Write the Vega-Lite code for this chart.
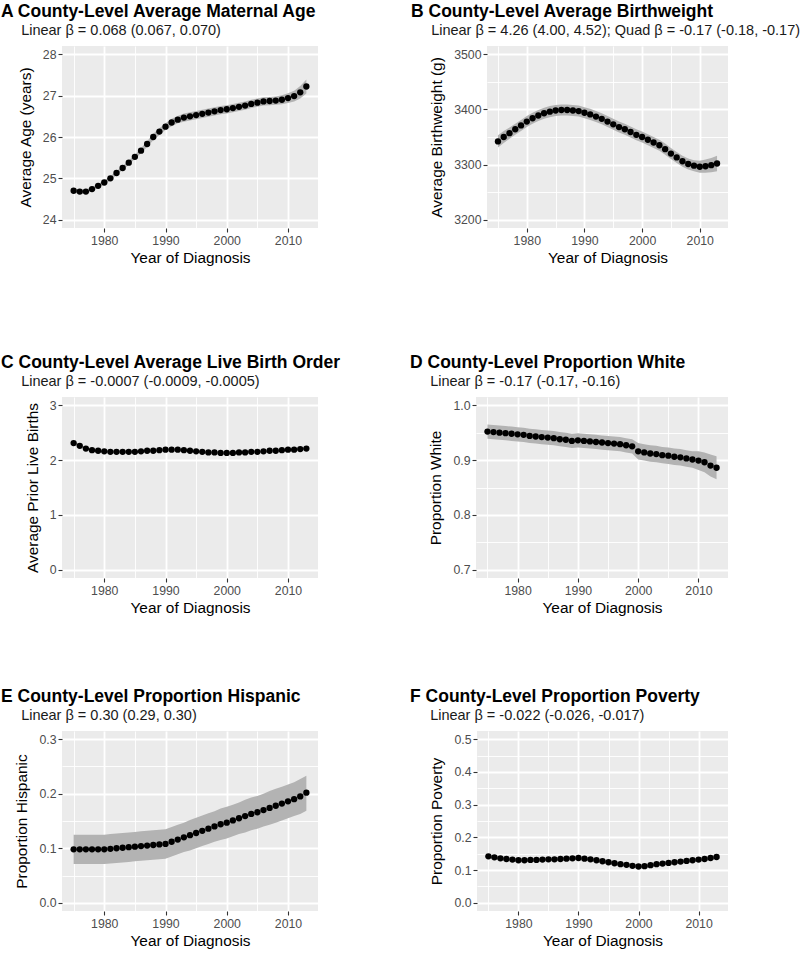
{
"$schema":"https://vega.github.io/schema/vega-lite/v6.json",
"padding":{"left":1,"top":3,"right":0,"bottom":0},
"background":"#FFFFFF",
"config":{
 "font":"Liberation Sans",
 "view":{"fill":"#EBEBEB","stroke":null},
 "axis":{"domain":false,"tickCount":50,"gridColor":"#FFFFFF","labelFontSize":12.3,"labelColor":"#4D4D4D","labelPadding":2,"tickColor":"#333333","tickSize":4,"tickWidth":1.1,"titleFontSize":15.4,"titleFontWeight":"normal","titleColor":"#000000","labelFlush":false,"labelOverlap":false,"labelBound":false},
 "axisX":{"titlePadding":4},
 "axisY":{"titlePadding":9},
 "title":{"anchor":"start","frame":"group","fontSize":17.5,"fontWeight":"bold","color":"#000000","subtitleFontSize":14.5,"subtitleColor":"#1A1A1A","subtitlePadding":3,"offset":9}
},
"datasets":{
"A":[
{"year":1975,"value":24.70,"lo":24.65,"hi":24.75},{"year":1976,"value":24.68,"lo":24.63,"hi":24.73},{"year":1977,"value":24.68,"lo":24.63,"hi":24.73},{"year":1978,"value":24.74,"lo":24.69,"hi":24.79},{"year":1979,"value":24.82,"lo":24.77,"hi":24.87},{"year":1980,"value":24.90,"lo":24.85,"hi":24.95},{"year":1981,"value":25.00,"lo":24.95,"hi":25.05},{"year":1982,"value":25.13,"lo":25.08,"hi":25.18},{"year":1983,"value":25.25,"lo":25.20,"hi":25.30},{"year":1984,"value":25.38,"lo":25.33,"hi":25.43},{"year":1985,"value":25.52,"lo":25.47,"hi":25.57},{"year":1986,"value":25.67,"lo":25.61,"hi":25.73},{"year":1987,"value":25.83,"lo":25.76,"hi":25.90},{"year":1988,"value":26.00,"lo":25.92,"hi":26.08},{"year":1989,"value":26.13,"lo":26.05,"hi":26.21},{"year":1990,"value":26.25,"lo":26.17,"hi":26.33},{"year":1991,"value":26.35,"lo":26.26,"hi":26.44},{"year":1992,"value":26.42,"lo":26.33,"hi":26.51},{"year":1993,"value":26.47,"lo":26.37,"hi":26.57},{"year":1994,"value":26.50,"lo":26.40,"hi":26.60},{"year":1995,"value":26.53,"lo":26.43,"hi":26.63},{"year":1996,"value":26.56,"lo":26.46,"hi":26.66},{"year":1997,"value":26.59,"lo":26.49,"hi":26.69},{"year":1998,"value":26.62,"lo":26.52,"hi":26.72},{"year":1999,"value":26.65,"lo":26.55,"hi":26.75},{"year":2000,"value":26.67,"lo":26.57,"hi":26.77},{"year":2001,"value":26.70,"lo":26.60,"hi":26.80},{"year":2002,"value":26.73,"lo":26.63,"hi":26.83},{"year":2003,"value":26.76,"lo":26.66,"hi":26.86},{"year":2004,"value":26.80,"lo":26.70,"hi":26.90},{"year":2005,"value":26.83,"lo":26.73,"hi":26.93},{"year":2006,"value":26.86,"lo":26.76,"hi":26.96},{"year":2007,"value":26.87,"lo":26.77,"hi":26.97},{"year":2008,"value":26.88,"lo":26.78,"hi":26.98},{"year":2009,"value":26.90,"lo":26.79,"hi":27.01},{"year":2010,"value":26.94,"lo":26.82,"hi":27.06},{"year":2011,"value":26.99,"lo":26.86,"hi":27.12},{"year":2012,"value":27.08,"lo":26.93,"hi":27.23},{"year":2013,"value":27.22,"lo":27.05,"hi":27.39}
],
"B":[
{"year":1975,"value":3342,"lo":3331,"hi":3353},{"year":1976,"value":3350,"lo":3339,"hi":3361},{"year":1977,"value":3357,"lo":3347,"hi":3367},{"year":1978,"value":3364,"lo":3354,"hi":3374},{"year":1979,"value":3371,"lo":3361,"hi":3381},{"year":1980,"value":3378,"lo":3368,"hi":3388},{"year":1981,"value":3384,"lo":3374,"hi":3394},{"year":1982,"value":3389,"lo":3379,"hi":3399},{"year":1983,"value":3393,"lo":3383,"hi":3403},{"year":1984,"value":3396,"lo":3386,"hi":3406},{"year":1985,"value":3398,"lo":3388,"hi":3408},{"year":1986,"value":3399,"lo":3389,"hi":3409},{"year":1987,"value":3399,"lo":3389,"hi":3409},{"year":1988,"value":3398,"lo":3388,"hi":3408},{"year":1989,"value":3397,"lo":3387,"hi":3407},{"year":1990,"value":3394,"lo":3384,"hi":3404},{"year":1991,"value":3391,"lo":3381,"hi":3401},{"year":1992,"value":3387,"lo":3377,"hi":3397},{"year":1993,"value":3383,"lo":3373,"hi":3393},{"year":1994,"value":3378,"lo":3368,"hi":3388},{"year":1995,"value":3373,"lo":3363,"hi":3383},{"year":1996,"value":3368,"lo":3358,"hi":3378},{"year":1997,"value":3364,"lo":3354,"hi":3374},{"year":1998,"value":3359,"lo":3349,"hi":3369},{"year":1999,"value":3354,"lo":3344,"hi":3364},{"year":2000,"value":3350,"lo":3340,"hi":3360},{"year":2001,"value":3345,"lo":3335,"hi":3355},{"year":2002,"value":3340,"lo":3330,"hi":3350},{"year":2003,"value":3335,"lo":3325,"hi":3345},{"year":2004,"value":3328,"lo":3318,"hi":3338},{"year":2005,"value":3320,"lo":3310,"hi":3330},{"year":2006,"value":3313,"lo":3303,"hi":3323},{"year":2007,"value":3306,"lo":3296,"hi":3316},{"year":2008,"value":3301,"lo":3291,"hi":3311},{"year":2009,"value":3298,"lo":3288,"hi":3308},{"year":2010,"value":3296,"lo":3285,"hi":3307},{"year":2011,"value":3297,"lo":3285,"hi":3309},{"year":2012,"value":3299,"lo":3286,"hi":3312},{"year":2013,"value":3302,"lo":3288,"hi":3316}
],
"C":[
{"year":1975,"value":2.31,"lo":2.28,"hi":2.34},{"year":1976,"value":2.26,"lo":2.24,"hi":2.28},{"year":1977,"value":2.21,"lo":2.19,"hi":2.23},{"year":1978,"value":2.18,"lo":2.16,"hi":2.20},{"year":1979,"value":2.17,"lo":2.15,"hi":2.19},{"year":1980,"value":2.16,"lo":2.14,"hi":2.18},{"year":1981,"value":2.15,"lo":2.13,"hi":2.17},{"year":1982,"value":2.15,"lo":2.13,"hi":2.17},{"year":1983,"value":2.15,"lo":2.13,"hi":2.17},{"year":1984,"value":2.15,"lo":2.13,"hi":2.17},{"year":1985,"value":2.15,"lo":2.13,"hi":2.17},{"year":1986,"value":2.16,"lo":2.14,"hi":2.18},{"year":1987,"value":2.17,"lo":2.15,"hi":2.19},{"year":1988,"value":2.17,"lo":2.15,"hi":2.19},{"year":1989,"value":2.18,"lo":2.16,"hi":2.20},{"year":1990,"value":2.19,"lo":2.17,"hi":2.21},{"year":1991,"value":2.19,"lo":2.17,"hi":2.21},{"year":1992,"value":2.19,"lo":2.17,"hi":2.21},{"year":1993,"value":2.18,"lo":2.16,"hi":2.20},{"year":1994,"value":2.17,"lo":2.15,"hi":2.19},{"year":1995,"value":2.16,"lo":2.14,"hi":2.18},{"year":1996,"value":2.15,"lo":2.13,"hi":2.17},{"year":1997,"value":2.14,"lo":2.12,"hi":2.16},{"year":1998,"value":2.14,"lo":2.12,"hi":2.16},{"year":1999,"value":2.13,"lo":2.11,"hi":2.15},{"year":2000,"value":2.13,"lo":2.11,"hi":2.15},{"year":2001,"value":2.13,"lo":2.11,"hi":2.15},{"year":2002,"value":2.14,"lo":2.12,"hi":2.16},{"year":2003,"value":2.14,"lo":2.12,"hi":2.16},{"year":2004,"value":2.15,"lo":2.13,"hi":2.17},{"year":2005,"value":2.15,"lo":2.13,"hi":2.17},{"year":2006,"value":2.16,"lo":2.14,"hi":2.18},{"year":2007,"value":2.17,"lo":2.15,"hi":2.19},{"year":2008,"value":2.17,"lo":2.15,"hi":2.19},{"year":2009,"value":2.18,"lo":2.16,"hi":2.20},{"year":2010,"value":2.19,"lo":2.17,"hi":2.21},{"year":2011,"value":2.19,"lo":2.17,"hi":2.21},{"year":2012,"value":2.20,"lo":2.18,"hi":2.22},{"year":2013,"value":2.21,"lo":2.19,"hi":2.23}
],
"D":[
{"year":1975,"value":0.952,"lo":0.939,"hi":0.965},{"year":1976,"value":0.951,"lo":0.938,"hi":0.964},{"year":1977,"value":0.950,"lo":0.937,"hi":0.963},{"year":1978,"value":0.949,"lo":0.936,"hi":0.962},{"year":1979,"value":0.948,"lo":0.935,"hi":0.961},{"year":1980,"value":0.947,"lo":0.934,"hi":0.960},{"year":1981,"value":0.946,"lo":0.933,"hi":0.959},{"year":1982,"value":0.944,"lo":0.931,"hi":0.957},{"year":1983,"value":0.943,"lo":0.930,"hi":0.956},{"year":1984,"value":0.942,"lo":0.929,"hi":0.955},{"year":1985,"value":0.941,"lo":0.928,"hi":0.954},{"year":1986,"value":0.940,"lo":0.927,"hi":0.953},{"year":1987,"value":0.938,"lo":0.925,"hi":0.951},{"year":1988,"value":0.937,"lo":0.924,"hi":0.950},{"year":1989,"value":0.935,"lo":0.922,"hi":0.948},{"year":1990,"value":0.936,"lo":0.923,"hi":0.949},{"year":1991,"value":0.935,"lo":0.922,"hi":0.948},{"year":1992,"value":0.934,"lo":0.921,"hi":0.947},{"year":1993,"value":0.933,"lo":0.920,"hi":0.946},{"year":1994,"value":0.932,"lo":0.919,"hi":0.945},{"year":1995,"value":0.931,"lo":0.918,"hi":0.944},{"year":1996,"value":0.930,"lo":0.917,"hi":0.943},{"year":1997,"value":0.929,"lo":0.916,"hi":0.942},{"year":1998,"value":0.927,"lo":0.914,"hi":0.940},{"year":1999,"value":0.925,"lo":0.912,"hi":0.938},{"year":2000,"value":0.916,"lo":0.901,"hi":0.931},{"year":2001,"value":0.914,"lo":0.899,"hi":0.929},{"year":2002,"value":0.912,"lo":0.897,"hi":0.927},{"year":2003,"value":0.911,"lo":0.896,"hi":0.926},{"year":2004,"value":0.909,"lo":0.894,"hi":0.924},{"year":2005,"value":0.908,"lo":0.893,"hi":0.923},{"year":2006,"value":0.906,"lo":0.891,"hi":0.921},{"year":2007,"value":0.905,"lo":0.890,"hi":0.920},{"year":2008,"value":0.903,"lo":0.888,"hi":0.918},{"year":2009,"value":0.901,"lo":0.886,"hi":0.916},{"year":2010,"value":0.899,"lo":0.882,"hi":0.916},{"year":2011,"value":0.896,"lo":0.878,"hi":0.914},{"year":2012,"value":0.890,"lo":0.870,"hi":0.910},{"year":2013,"value":0.886,"lo":0.865,"hi":0.907}
],
"E":[
{"year":1975,"value":0.098,"lo":0.071,"hi":0.125},{"year":1976,"value":0.098,"lo":0.071,"hi":0.125},{"year":1977,"value":0.098,"lo":0.071,"hi":0.125},{"year":1978,"value":0.098,"lo":0.071,"hi":0.125},{"year":1979,"value":0.098,"lo":0.071,"hi":0.125},{"year":1980,"value":0.098,"lo":0.071,"hi":0.125},{"year":1981,"value":0.099,"lo":0.072,"hi":0.126},{"year":1982,"value":0.100,"lo":0.073,"hi":0.127},{"year":1983,"value":0.101,"lo":0.074,"hi":0.128},{"year":1984,"value":0.102,"lo":0.075,"hi":0.129},{"year":1985,"value":0.103,"lo":0.076,"hi":0.130},{"year":1986,"value":0.104,"lo":0.077,"hi":0.131},{"year":1987,"value":0.105,"lo":0.078,"hi":0.132},{"year":1988,"value":0.106,"lo":0.079,"hi":0.133},{"year":1989,"value":0.107,"lo":0.080,"hi":0.134},{"year":1990,"value":0.108,"lo":0.081,"hi":0.135},{"year":1991,"value":0.112,"lo":0.085,"hi":0.139},{"year":1992,"value":0.116,"lo":0.089,"hi":0.143},{"year":1993,"value":0.120,"lo":0.093,"hi":0.147},{"year":1994,"value":0.124,"lo":0.096,"hi":0.152},{"year":1995,"value":0.128,"lo":0.100,"hi":0.156},{"year":1996,"value":0.132,"lo":0.104,"hi":0.160},{"year":1997,"value":0.136,"lo":0.108,"hi":0.164},{"year":1998,"value":0.140,"lo":0.112,"hi":0.168},{"year":1999,"value":0.144,"lo":0.115,"hi":0.173},{"year":2000,"value":0.147,"lo":0.118,"hi":0.176},{"year":2001,"value":0.151,"lo":0.122,"hi":0.180},{"year":2002,"value":0.155,"lo":0.126,"hi":0.184},{"year":2003,"value":0.159,"lo":0.129,"hi":0.189},{"year":2004,"value":0.163,"lo":0.133,"hi":0.193},{"year":2005,"value":0.166,"lo":0.136,"hi":0.196},{"year":2006,"value":0.170,"lo":0.140,"hi":0.200},{"year":2007,"value":0.174,"lo":0.143,"hi":0.205},{"year":2008,"value":0.178,"lo":0.147,"hi":0.209},{"year":2009,"value":0.182,"lo":0.151,"hi":0.213},{"year":2010,"value":0.186,"lo":0.155,"hi":0.217},{"year":2011,"value":0.190,"lo":0.159,"hi":0.221},{"year":2012,"value":0.195,"lo":0.163,"hi":0.227},{"year":2013,"value":0.202,"lo":0.169,"hi":0.233}
],
"F":[
{"year":1975,"value":0.142,"lo":0.136,"hi":0.148},{"year":1976,"value":0.139,"lo":0.133,"hi":0.145},{"year":1977,"value":0.136,"lo":0.130,"hi":0.142},{"year":1978,"value":0.134,"lo":0.128,"hi":0.140},{"year":1979,"value":0.132,"lo":0.126,"hi":0.138},{"year":1980,"value":0.130,"lo":0.124,"hi":0.136},{"year":1981,"value":0.130,"lo":0.124,"hi":0.136},{"year":1982,"value":0.131,"lo":0.125,"hi":0.137},{"year":1983,"value":0.131,"lo":0.125,"hi":0.137},{"year":1984,"value":0.132,"lo":0.126,"hi":0.138},{"year":1985,"value":0.133,"lo":0.127,"hi":0.139},{"year":1986,"value":0.133,"lo":0.127,"hi":0.139},{"year":1987,"value":0.134,"lo":0.128,"hi":0.140},{"year":1988,"value":0.135,"lo":0.129,"hi":0.141},{"year":1989,"value":0.136,"lo":0.130,"hi":0.142},{"year":1990,"value":0.137,"lo":0.131,"hi":0.143},{"year":1991,"value":0.135,"lo":0.129,"hi":0.141},{"year":1992,"value":0.133,"lo":0.127,"hi":0.139},{"year":1993,"value":0.130,"lo":0.124,"hi":0.136},{"year":1994,"value":0.127,"lo":0.121,"hi":0.133},{"year":1995,"value":0.124,"lo":0.118,"hi":0.130},{"year":1996,"value":0.121,"lo":0.115,"hi":0.127},{"year":1997,"value":0.118,"lo":0.112,"hi":0.124},{"year":1998,"value":0.116,"lo":0.110,"hi":0.122},{"year":1999,"value":0.113,"lo":0.107,"hi":0.119},{"year":2000,"value":0.111,"lo":0.105,"hi":0.117},{"year":2001,"value":0.112,"lo":0.106,"hi":0.118},{"year":2002,"value":0.115,"lo":0.109,"hi":0.121},{"year":2003,"value":0.118,"lo":0.112,"hi":0.124},{"year":2004,"value":0.120,"lo":0.114,"hi":0.126},{"year":2005,"value":0.122,"lo":0.116,"hi":0.128},{"year":2006,"value":0.124,"lo":0.118,"hi":0.130},{"year":2007,"value":0.126,"lo":0.120,"hi":0.132},{"year":2008,"value":0.128,"lo":0.122,"hi":0.134},{"year":2009,"value":0.130,"lo":0.124,"hi":0.136},{"year":2010,"value":0.132,"lo":0.126,"hi":0.138},{"year":2011,"value":0.134,"lo":0.128,"hi":0.140},{"year":2012,"value":0.137,"lo":0.131,"hi":0.143},{"year":2013,"value":0.140,"lo":0.134,"hi":0.146}
]
},
"vconcat":[
{"vconcat":[
 {"hconcat":[
  {"width":256,"height":182,"data":{"name":"A"},
   "title":{"text":"A County-Level Average Maternal Age","subtitle":"\u200b\u00a0\u00a0\u00a0\u00a0\u00a0Linear β = 0.068 (0.067, 0.070)","dx":-61},
   "encoding":{"x":{"field":"year","type":"quantitative","title":"Year of Diagnosis","scale":{"domain":[1973.1,2014.9],"nice":false,"zero":false},"axis":{"values":[1975,1980,1985,1990,1995,2000,2005,2010],"format":"d","labelExpr":"datum.value % 10 === 0 ? datum.label : ''","gridWidth":{"condition":{"test":"datum.value % 10 === 0","value":1.8},"value":0.9},"tickOpacity":{"condition":{"test":"datum.value % 10 === 0","value":1},"value":0}}}},
   "layer":[
    {"mark":{"type":"area","color":"#B3B3B3"},
     "encoding":{
      "y":{"field":"lo","type":"quantitative","title":"Average Age (years)","scale":{"domain":[23.8,28.2],"nice":false,"zero":false},"axis":{"values":[24,24.5,25,25.5,26,26.5,27,27.5,28],"format":"d","labelExpr":"datum.value % 1 === 0 ? datum.label : ''","gridWidth":{"condition":{"test":"datum.value % 1 === 0","value":1.8},"value":0.9},"tickOpacity":{"condition":{"test":"datum.value % 1 === 0","value":1},"value":0}}},
      "y2":{"field":"hi"}}},
    {"mark":{"type":"circle","color":"#000000","size":40,"opacity":1},
     "encoding":{"y":{"field":"value","type":"quantitative"}}}
   ]},
  {"width":241,"height":182,"data":{"name":"B"},
   "title":{"text":"B County-Level Average Birthweight","subtitle":"\u200b\u00a0\u00a0\u00a0\u00a0\u00a0Linear β = 4.26 (4.00, 4.52); Quad β = -0.17 (-0.18, -0.17)","dx":-76},
   "encoding":{"x":{"field":"year","type":"quantitative","title":"Year of Diagnosis","scale":{"domain":[1973.1,2014.9],"nice":false,"zero":false},"axis":{"values":[1975,1980,1985,1990,1995,2000,2005,2010],"format":"d","labelExpr":"datum.value % 10 === 0 ? datum.label : ''","gridWidth":{"condition":{"test":"datum.value % 10 === 0","value":1.8},"value":0.9},"tickOpacity":{"condition":{"test":"datum.value % 10 === 0","value":1},"value":0}}}},
   "layer":[
    {"mark":{"type":"area","color":"#B3B3B3"},
     "encoding":{
      "y":{"field":"lo","type":"quantitative","title":"Average Birthweight (g)","scale":{"domain":[3185,3515],"nice":false,"zero":false},"axis":{"values":[3200,3250,3300,3350,3400,3450,3500],"format":"d","labelExpr":"datum.value % 100 === 0 ? datum.label : ''","gridWidth":{"condition":{"test":"datum.value % 100 === 0","value":1.8},"value":0.9},"tickOpacity":{"condition":{"test":"datum.value % 100 === 0","value":1},"value":0}}},
      "y2":{"field":"hi"}}},
    {"mark":{"type":"circle","color":"#000000","size":40,"opacity":1},
     "encoding":{"y":{"field":"value","type":"quantitative"}}}
   ]}
 ],"spacing":169,"bounds":"flush"},
 {"hconcat":[
  {"width":256,"height":181,"data":{"name":"C"},
   "title":{"text":"C County-Level Average Live Birth Order","subtitle":"\u200b\u00a0\u00a0\u00a0\u00a0\u00a0Linear β = -0.0007 (-0.0009, -0.0005)","dx":-61},
   "encoding":{"x":{"field":"year","type":"quantitative","title":"Year of Diagnosis","scale":{"domain":[1973.1,2014.9],"nice":false,"zero":false},"axis":{"values":[1975,1980,1985,1990,1995,2000,2005,2010],"format":"d","labelExpr":"datum.value % 10 === 0 ? datum.label : ''","gridWidth":{"condition":{"test":"datum.value % 10 === 0","value":1.8},"value":0.9},"tickOpacity":{"condition":{"test":"datum.value % 10 === 0","value":1},"value":0}}}},
   "layer":[
    {"mark":{"type":"area","color":"#B3B3B3"},
     "encoding":{
      "y":{"field":"lo","type":"quantitative","title":"Average Prior Live Births","scale":{"domain":[-0.15,3.15],"nice":false,"zero":false},"axis":{"values":[0,0.5,1,1.5,2,2.5,3],"format":"d","labelExpr":"datum.value % 1 === 0 ? datum.label : ''","gridWidth":{"condition":{"test":"datum.value % 1 === 0","value":1.8},"value":0.9},"tickOpacity":{"condition":{"test":"datum.value % 1 === 0","value":1},"value":0}}},
      "y2":{"field":"hi"}}},
    {"mark":{"type":"circle","color":"#000000","size":40,"opacity":1},
     "encoding":{"y":{"field":"value","type":"quantitative"}}}
   ]},
  {"width":252,"height":181,"data":{"name":"D"},
   "title":{"text":"D County-Level Proportion White","subtitle":"\u200b\u00a0\u00a0\u00a0\u00a0\u00a0Linear β = -0.17 (-0.17, -0.16)","dx":-66},
   "encoding":{"x":{"field":"year","type":"quantitative","title":"Year of Diagnosis","scale":{"domain":[1973.1,2014.9],"nice":false,"zero":false},"axis":{"values":[1975,1980,1985,1990,1995,2000,2005,2010],"format":"d","labelExpr":"datum.value % 10 === 0 ? datum.label : ''","gridWidth":{"condition":{"test":"datum.value % 10 === 0","value":1.8},"value":0.9},"tickOpacity":{"condition":{"test":"datum.value % 10 === 0","value":1},"value":0}}}},
   "layer":[
    {"mark":{"type":"area","color":"#B3B3B3"},
     "encoding":{
      "y":{"field":"lo","type":"quantitative","title":"Proportion White","scale":{"domain":[0.685,1.015],"nice":false,"zero":false},"axis":{"values":[0.7,0.75,0.8,0.85,0.9,0.95,1.0],"format":".1f","labelExpr":"abs(datum.value*10 - round(datum.value*10)) < 0.001 ? datum.label : ''","gridWidth":{"condition":{"test":"abs(datum.value*10 - round(datum.value*10)) < 0.001","value":1.8},"value":0.9},"tickOpacity":{"condition":{"test":"abs(datum.value*10 - round(datum.value*10)) < 0.001","value":1},"value":0}}},
      "y2":{"field":"hi"}}},
    {"mark":{"type":"circle","color":"#000000","size":40,"opacity":1},
     "encoding":{"y":{"field":"value","type":"quantitative"}}}
   ]}
 ],"spacing":158,"bounds":"flush"}
],"spacing":88,"bounds":"full"},
{"hconcat":[
  {"width":256,"height":180,"data":{"name":"E"},
   "title":{"text":"E County-Level Proportion Hispanic","subtitle":"\u200b\u00a0\u00a0\u00a0\u00a0\u00a0Linear β = 0.30 (0.29, 0.30)","dx":-61},
   "encoding":{"x":{"field":"year","type":"quantitative","title":"Year of Diagnosis","scale":{"domain":[1973.1,2014.9],"nice":false,"zero":false},"axis":{"values":[1975,1980,1985,1990,1995,2000,2005,2010],"format":"d","labelExpr":"datum.value % 10 === 0 ? datum.label : ''","gridWidth":{"condition":{"test":"datum.value % 10 === 0","value":1.8},"value":0.9},"tickOpacity":{"condition":{"test":"datum.value % 10 === 0","value":1},"value":0}}}},
   "layer":[
    {"mark":{"type":"area","color":"#B3B3B3"},
     "encoding":{
      "y":{"field":"lo","type":"quantitative","title":"Proportion Hispanic","scale":{"domain":[-0.015,0.315],"nice":false,"zero":false},"axis":{"values":[0,0.05,0.1,0.15,0.2,0.25,0.3],"format":".1f","labelExpr":"abs(datum.value*10 - round(datum.value*10)) < 0.001 ? datum.label : ''","gridWidth":{"condition":{"test":"abs(datum.value*10 - round(datum.value*10)) < 0.001","value":1.8},"value":0.9},"tickOpacity":{"condition":{"test":"abs(datum.value*10 - round(datum.value*10)) < 0.001","value":1},"value":0}}},
      "y2":{"field":"hi"}}},
    {"mark":{"type":"circle","color":"#000000","size":40,"opacity":1},
     "encoding":{"y":{"field":"value","type":"quantitative"}}}
   ]},
  {"width":251,"height":180,"data":{"name":"F"},
   "title":{"text":"F County-Level Proportion Poverty","subtitle":"\u200b\u00a0\u00a0\u00a0\u00a0\u00a0Linear β = -0.022 (-0.026, -0.017)","dx":-67},
   "encoding":{"x":{"field":"year","type":"quantitative","title":"Year of Diagnosis","scale":{"domain":[1973.1,2014.9],"nice":false,"zero":false},"axis":{"values":[1975,1980,1985,1990,1995,2000,2005,2010],"format":"d","labelExpr":"datum.value % 10 === 0 ? datum.label : ''","gridWidth":{"condition":{"test":"datum.value % 10 === 0","value":1.8},"value":0.9},"tickOpacity":{"condition":{"test":"datum.value % 10 === 0","value":1},"value":0}}}},
   "layer":[
    {"mark":{"type":"area","color":"#B3B3B3"},
     "encoding":{
      "y":{"field":"lo","type":"quantitative","title":"Proportion Poverty","scale":{"domain":[-0.025,0.525],"nice":false,"zero":false},"axis":{"values":[0,0.05,0.1,0.15,0.2,0.25,0.3,0.35,0.4,0.45,0.5],"format":".1f","labelExpr":"abs(datum.value*10 - round(datum.value*10)) < 0.001 ? datum.label : ''","gridWidth":{"condition":{"test":"abs(datum.value*10 - round(datum.value*10)) < 0.001","value":1.8},"value":0.9},"tickOpacity":{"condition":{"test":"abs(datum.value*10 - round(datum.value*10)) < 0.001","value":1},"value":0}}},
      "y2":{"field":"hi"}}},
    {"mark":{"type":"circle","color":"#000000","size":40,"opacity":1},
     "encoding":{"y":{"field":"value","type":"quantitative"}}}
   ]}
 ],"spacing":159,"bounds":"flush"}
],
"spacing":72,
"bounds":"full"
}
